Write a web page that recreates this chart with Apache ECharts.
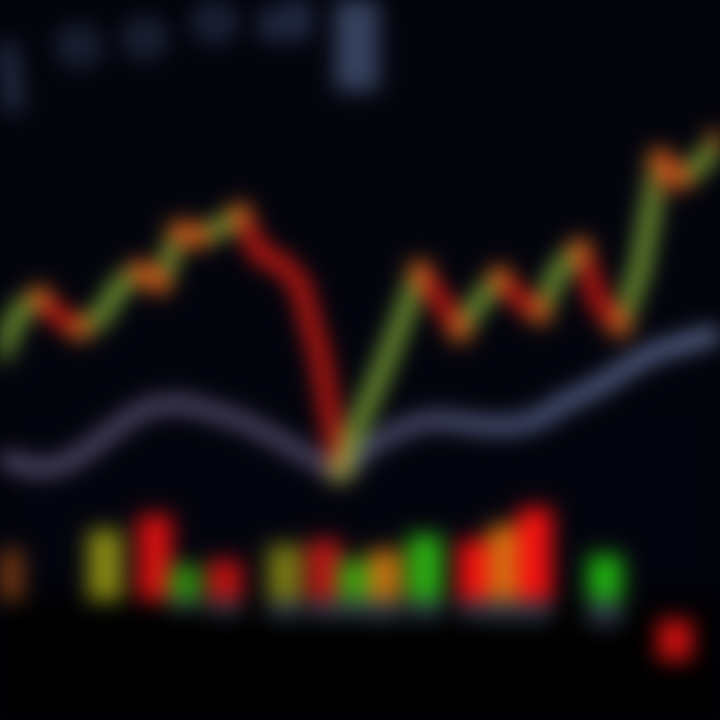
<!DOCTYPE html>
<html><head><meta charset="utf-8">
<script src="https://cdn.jsdelivr.net/npm/echarts@6/dist/echarts.min.js"></script>
<style>
html,body{margin:0;padding:0;background:#03040c;overflow:hidden}
#c{width:720px;height:720px;filter:blur(11px)}
</style></head><body><div id="c"></div>
<script>
// price path (37 points)
const priceValues = [222.5,245,251,241,236,241,257.5,264,259,284,282,286,292.5,272.5,269,258,222,165,190,212.5,237.5,264,250,235,250,261,250,244,266,275,247.5,237.5,265,320,311,317.5,330];
// moving average
const maValues = [171,168,166,167.5,172.5,180,187.5,194,197.5,198,196,193,190,185,180,174,169,162.5,172.5,180,185,189,190,189,187.5,187,188,191,197.5,202.5,207.5,214,220,225,227.5,231,232.5];
const priceCats = priceValues.map((_, i) => 'P' + i);
// volume: 72 slots, sparse bars
const volSlots  = [0, 10, 15, 18, 22, 28, 32, 35, 38, 42, 47, 50, 53, 60, 67];
const volValues = [50, 70, 85, 35, 40, 55, 60, 40, 50, 65, 60, 75, 92, 45, -40];
const volColors = ['#7a3a12','#8a8a14','#d81010','#2a8a10','#c01212','#7a7a14','#b81515','#30a010','#c07010','#2cb012','#f01010','#d07010','#f41010','#20b010','#d01010'];
const reflValues = [0, 0, 0, -10, -15, -18, -18, -18, -20, -18, -18, -20, -20, -25, -20];

const volCats = Array.from({length:72}, (_, i) => 'V' + i);
const volData = volCats.map(() => '-');
const reflData = volCats.map(() => '-');
volSlots.forEach((s, k) => {
  volData[s] = {value: volValues[k], itemStyle:{color: volColors[k]}};
  reflData[s] = {value: reflValues[k], itemStyle:{color: volValues[k] < 0 ? 'rgba(0,0,0,0)' : '#2e3848'}};
});

const GREEN = '#7aa335', RED = '#d41a12', ORANGE = '#e66a1c';
const pieces = [];
for (let i = 0; i < priceValues.length - 1; i++) {
  pieces.push({gte: i, lt: i + 1, color: priceValues[i + 1] >= priceValues[i] ? GREEN : RED});
}
pieces.push({gte: priceValues.length - 1, lte: priceValues.length, color: RED});
const minV = Math.min(...priceValues);
const dotData = priceValues.map((v, i) => {
  const prev = i > 0 ? priceValues[i - 1] : v, next = i < priceValues.length - 1 ? priceValues[i + 1] : v;
  const turn = (v >= prev && v >= next) || (v <= prev && v <= next);
  if (!turn || i === 0) return {value: v, symbolSize: 0};
  return {value: v, symbolSize: 24, itemStyle:{color: v === minV ? '#a8b040' : ORANGE}};
});

const chart = echarts.init(document.getElementById('c'));
chart.setOption({
  backgroundColor: {type:'linear', x:0, y:0, x2:0, y2:1, colorStops:[
    {offset:0, color:'#03040c'},{offset:0.8, color:'#03040d'},{offset:0.86, color:'#000000'},{offset:1, color:'#000000'}]},
  animation: false,
  graphic: [
    {type:'text', left: -8, top: 42, rotation: 0.1, style:{text:'l', font:'bold 90px "DejaVu Sans"', fill:'#2c3652'}},
    {type:'text', left: 56, top: 14, style:{text:'o', font:'bold 66px "DejaVu Sans"', fill:'#28324c'}},
    {type:'text', left: 122, top: 6, style:{text:'o', font:'bold 66px "DejaVu Sans"', fill:'#28324c'}},
    {type:'text', left: 192, top: -10, style:{text:'o', font:'bold 66px "DejaVu Sans"', fill:'#2a3452'}},
    {type:'text', left: 256, top: -28, style:{text:'a', font:'bold 88px "DejaVu Sans"', fill:'#2c3656'}},
    {type:'text', left: 336, top: -22, style:{text:'▌', font:'bold 112px "DejaVu Sans"', fill:'#36425f'}}
  ],
  grid: [
    {left: 0, right: 0, top: 100, height: 400},
    {left: 0, right: 0, top: 480, height: 200}
  ],
  xAxis: [
    {type:'category', gridIndex:0, data: priceCats, boundaryGap:false, show:false},
    {type:'category', gridIndex:1, data: volCats, boundaryGap:true, show:false}
  ],
  yAxis: [
    {type:'value', gridIndex:0, min:150, max:350, show:false},
    {type:'value', gridIndex:1, min:-80, max:120, show:false}
  ],
  visualMap: {show:false, type:'piecewise', seriesIndex:1, dimension:0, pieces: pieces},
  series: [
    {type:'line', name:'MA', xAxisIndex:0, yAxisIndex:0, data: maValues, smooth:0.5, symbol:'none',
     lineStyle:{width:13, color:{type:'linear', x:0,y:0,x2:1,y2:0, colorStops:[
       {offset:0,color:'#6a6088'},{offset:0.45,color:'#625a80'},{offset:0.75,color:'#6a78a8'},{offset:1,color:'#7888b8'}]}}},
    {type:'line', name:'Price', xAxisIndex:0, yAxisIndex:0, data: priceValues, symbol:'none', z:3,
     lineStyle:{width:17, join:'round', cap:'round'}},
    {type:'scatter', name:'Dots', xAxisIndex:0, yAxisIndex:0, data: dotData, z:4},
    {type:'bar', name:'Refl', xAxisIndex:1, yAxisIndex:1, data: reflData, stack:'v', barWidth:34},
    {type:'bar', name:'Volume', xAxisIndex:1, yAxisIndex:1, data: volData, stack:'v', barWidth:34}
  ]
});
</script></body></html>
